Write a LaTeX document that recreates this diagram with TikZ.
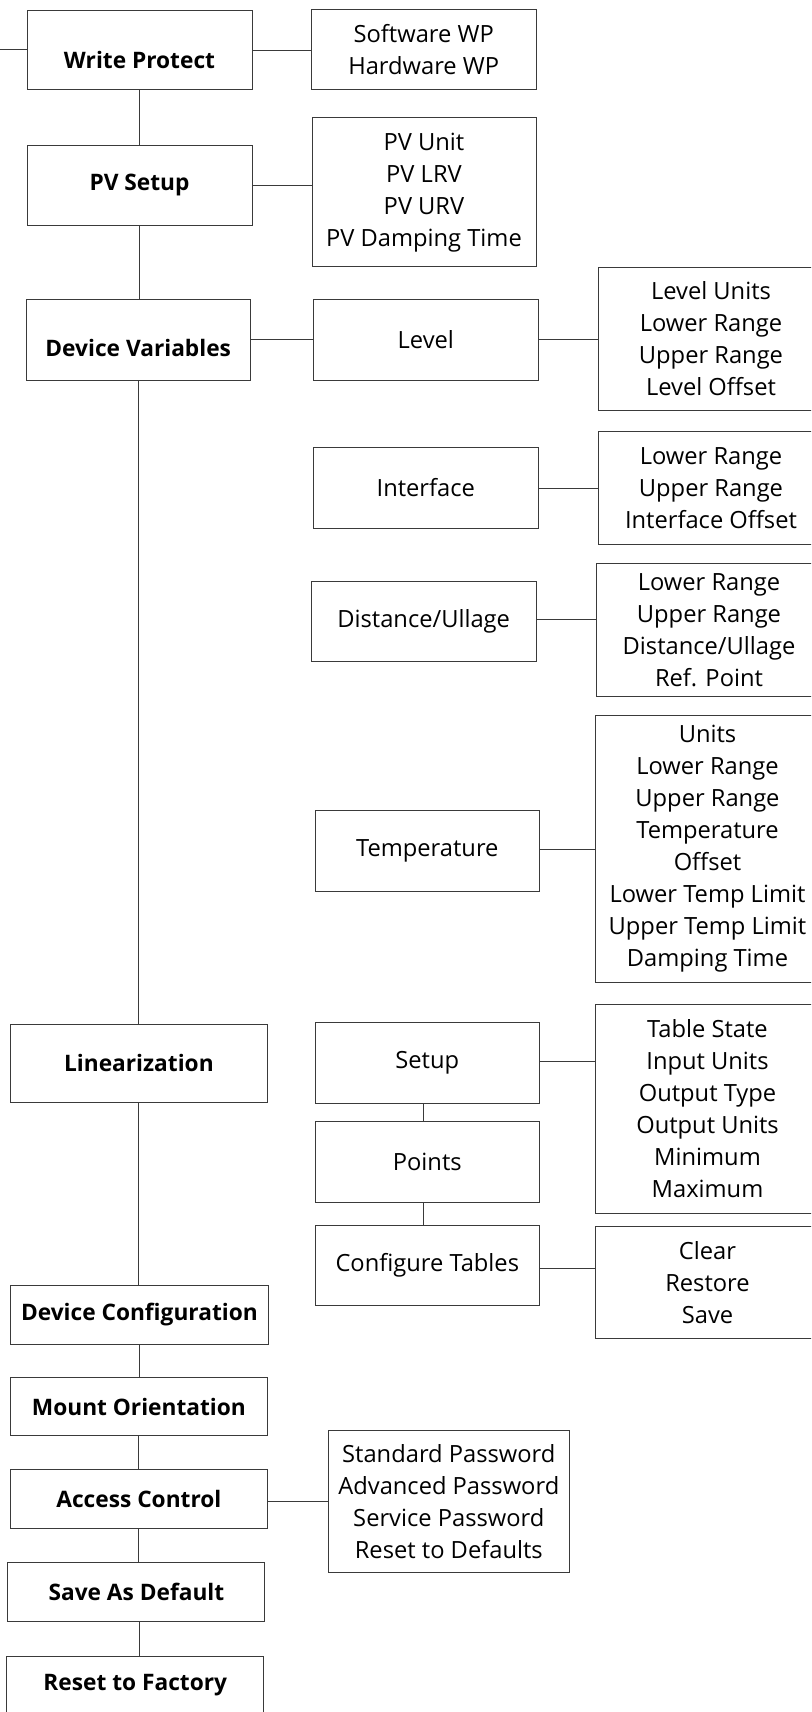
\documentclass[tikz,border=0pt]{standalone}
\usepackage{fontspec}
\setmainfont{Open Sans}
\definecolor{lc}{HTML}{3A3A3A}
\begin{document}
\begin{tikzpicture}[x=1pt,y=-1pt,
  bx/.style={draw=lc, line width=1pt, inner sep=0pt, align=center, text=black,
    font=\fontsize{23.7}{32}\selectfont},
  hb/.style={bx, font=\bfseries\fontsize{22.7}{32}\selectfont},
  ln/.style={draw=lc, line width=1pt},
  lbl/.style={inner sep=0pt, text=black, font=\bfseries\fontsize{22.7}{32}\selectfont}]
\useasboundingbox (0,0) rectangle (811,1712);
\clip (0,0) rectangle (811,1712);
% left column
\node[hb, minimum width=225pt, minimum height=79pt] (wp) at (139.5,50.5) {};
\node[lbl] (wpt) at ([yshift=-9pt]wp.center) {Write Protect};
\node[hb, minimum width=225pt, minimum height=80pt] (pv) at (139.5,185.3) {PV Setup};
\node[hb, minimum width=224.4pt, minimum height=80.7pt] (dv) at (138.2,339.7) {};
\node[lbl] (dvt) at ([yshift=-8pt]dv.center) {Device Variables};
\node[hb, minimum width=257pt, minimum height=78pt] (lin) at (138.9,1063) {Linearization};
\node[hb, minimum width=258pt, minimum height=59pt] (dc) at (139.4,1314.5) {Device Configuration};
\node[hb, minimum width=257pt, minimum height=58.4pt] (mo) at (138.9,1406.5) {Mount Orientation};
\node[hb, minimum width=257pt, minimum height=59pt] (ac) at (138.9,1498.5) {Access Control};
\node[hb, minimum width=257pt, minimum height=58.7pt] (sd) at (136.4,1591.7) {Save As Default};
\node[hb, minimum width=257pt, minimum height=59pt] (rf) at (135.3,1685.5) {Reset to Factory};
% middle column
\node[bx, minimum width=224.6pt, minimum height=79.3pt] (swhw) at (423.7,49.4) {Software WP\\Hardware WP};
\node[bx, minimum width=224pt, minimum height=149pt] (pvl) at (424,192.2) {PV Unit\\PV LRV\\PV URV\\PV Damping Time};
\node[bx, minimum width=224.5pt, minimum height=81pt] (lev) at (425.8,339.5) {Level};
\node[bx, minimum width=224.5pt, minimum height=80.6pt] (ifc) at (425.8,488) {Interface};
\node[bx, minimum width=224.6pt, minimum height=80pt] (du) at (423.7,621) {Distance/Ullage};
\node[bx, minimum width=224.6pt, minimum height=80.7pt] (tmp) at (427.3,851.3) {Temperature};
\node[bx, minimum width=224.6pt, minimum height=80.6pt] (set) at (427.3,1063) {Setup};
\node[bx, minimum width=224.6pt, minimum height=80.6pt] (pts) at (427.3,1161.7) {Points};
\node[bx, minimum width=224.6pt, minimum height=80.3pt] (ct) at (427.3,1265.2) {Configure Tables};
\node[bx, minimum width=240.5pt, minimum height=142.4pt] (pw) at (448.8,1501.5) {Standard Password\\Advanced Password\\Service Password\\Reset to Defaults};
% right column
\node[bx, minimum width=225pt, minimum height=142.6pt] (levl) at (711,339) {Level Units\\Lower Range\\Upper Range\\Level Offset};
\node[bx, minimum width=225pt, minimum height=112.6pt] (ifl) at (711,488) {Lower Range\\Upper Range\\Interface Offset};
\node[bx, minimum width=225pt, minimum height=132.3pt] (dul) at (709,629.9) {Lower Range\\Upper Range\\Distance/Ullage\\Ref. Point};
\node[bx, minimum width=225pt, minimum height=267.7pt] (tmpl) at (707.5,848.9) {Units\\Lower Range\\Upper Range\\Temperature\\Offset\\Lower Temp Limit\\Upper Temp Limit\\Damping Time};
\node[bx, minimum width=225pt, minimum height=209pt] (setl) at (707.5,1108.8) {Table State\\Input Units\\Output Type\\Output Units\\Minimum\\Maximum};
\node[bx, minimum width=225pt, minimum height=112pt] (ctl) at (707.5,1282.3) {Clear\\Restore\\Save};
% connectors
\coordinate (in) at (0,50);
\draw[ln] (in) -- (in -| wp.west);
\draw[ln] (wp.east) -- (wp.east -| swhw.west);
\draw[ln] (wp.south) -- (wp.south |- pv.north);
\draw[ln] (pv.east) -- (pv.east -| pvl.west);
\draw[ln] (pv.south) -- (pv.south |- dv.north);
\draw[ln] (dv.east) -- (dv.east -| lev.west);
\draw[ln] (lev.east) -- (lev.east -| levl.west);
\draw[ln] (ifc.east) -- (ifc.east -| ifl.west);
\draw[ln] ([yshift=2pt]du.east) -- ([yshift=2pt]du.east -| dul.west);
\draw[ln] ([yshift=2pt]tmp.east) -- ([yshift=2pt]tmp.east -| tmpl.west);
\draw[ln] (dv.south) -- (dv.south |- lin.north);
\draw[ln] (lin.south) -- (lin.south |- dc.north);
\draw[ln] ([yshift=2pt]set.east) -- ([yshift=2pt]set.east -| setl.west);
\draw[ln] ([xshift=-3.5pt]set.south) -- ([xshift=-3.5pt]set.south |- pts.north);
\draw[ln] ([xshift=-3.5pt]pts.south) -- ([xshift=-3.5pt]pts.south |- ct.north);
\draw[ln] ([yshift=-3pt]ct.east) -- ([yshift=-3pt]ct.east -| ctl.west);
\draw[ln] (dc.south) -- (dc.south |- mo.north);
\draw[ln] (mo.south) -- (mo.south |- ac.north);
\draw[ln] ([yshift=-3pt]ac.east) -- ([yshift=-3pt]ac.east -| pw.west);
\draw[ln] (ac.south) -- (ac.south |- sd.north);
\draw[ln] ([xshift=3pt]sd.south) -- ([xshift=3pt]sd.south |- rf.north);
\end{tikzpicture}
\end{document}
